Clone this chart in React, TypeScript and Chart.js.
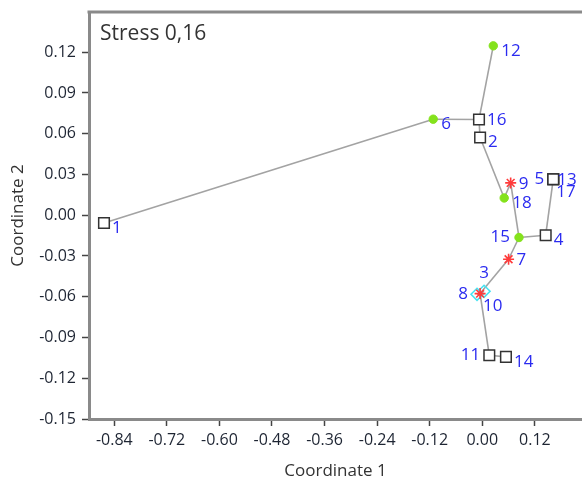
import React, { useEffect, useRef } from 'react';
import { Chart, registerables } from 'chart.js';
Chart.register(...registerables);

// ---- data ----
const pointNames = ['1','2','3','4','5','6','7','8','9','10','11','12','13','14','15','16','17','18'];
const coord1 = [-0.8635, -0.005, 0.004, 0.1447, 0.162, -0.112, 0.060, -0.012, 0.0648, -0.005, 0.016, 0.0251, 0.162, 0.054, 0.0838, -0.0075, 0.162, 0.050];
const coord2 = [-0.0057, 0.0572, -0.056, -0.0147, 0.0265, 0.0707, -0.0324, -0.0582, 0.0238, -0.0577, -0.1031, 0.1247, 0.0265, -0.1043, -0.0164, 0.0705, 0.0265, 0.0127];
const groupOf = ['box','box','diamond','box','box','dot','star','diamond','star','star','box','dot','teal','box','dot','box','box','dot'];
const edges = [[1,6],[6,16],[16,12],[16,2],[2,18],[18,9],[9,15],[15,4],[4,5],[15,7],[7,10],[10,3],[10,8],[10,11],[11,14]];
const xTicks = [-0.84, -0.72, -0.60, -0.48, -0.36, -0.24, -0.12, 0.00, 0.12];
const yTicks = [-0.15, -0.12, -0.09, -0.06, -0.03, 0.00, 0.03, 0.06, 0.09, 0.12];
const stressText = 'Stress 0,16';
const xTitle = 'Coordinate 1';
const yTitle = 'Coordinate 2';
// label anchor codes (style only)
const labelAnchor = ['rb','rb','t','rb','l','rb','r','l','r','b','l','rb','rc','rb','l','r','b','rb'];

const FONT = '"Open Sans", "Noto Sans", sans-serif';

const groupStyles: Record<string, any> = {
  box: { pointStyle: 'rect', pointRadius: 7.5, borderColor: '#333333', backgroundColor: '#ffffff', pointBorderWidth: 1.5 },
  teal: { pointStyle: 'rect', pointRadius: 7.5, borderColor: '#333333', backgroundColor: '#2f7566', pointBorderWidth: 1.5 },
  dot: { pointStyle: 'circle', pointRadius: 4.2, borderColor: '#84e21c', backgroundColor: '#84e21c', pointBorderWidth: 1 },
  star: { pointStyle: 'star', pointRadius: 5.5, borderColor: '#ff3b3b', backgroundColor: '#ff3b3b', pointBorderWidth: 1.6 },
  diamond: { pointStyle: 'rectRot', pointRadius: 6, borderColor: '#46e3f2', backgroundColor: 'rgba(0,0,0,0)', pointBorderWidth: 1.6 },
};

const anchorOffsets: Record<string, [number, number, CanvasTextAlign]> = {
  r: [8, 1, 'left'],
  rb: [8, 5, 'left'],
  rc: [4, 1, 'left'],
  l: [-9, 0, 'right'],
  t: [0, -18, 'center'],
  b: [3, 13, 'left'],
};

const labelPlugin = {
  id: 'pointLabels',
  afterDatasetsDraw(chart: any) {
    const { ctx, scales } = chart;
    ctx.save();
    ctx.font = `17px ${FONT}`;
    ctx.fillStyle = '#2b2bf0';
    ctx.textBaseline = 'middle';
    pointNames.forEach((name, i) => {
      const px = scales.x.getPixelForValue(coord1[i]);
      const py = scales.y.getPixelForValue(coord2[i]);
      const [dx, dy, align] = anchorOffsets[labelAnchor[i]];
      ctx.textAlign = align;
      ctx.fillText(name, px + dx, py + dy);
    });
    ctx.restore();
  },
};

const framePlugin = {
  id: 'frame',
  afterDraw(chart: any) {
    const { ctx, chartArea } = chart;
    ctx.save();
    ctx.strokeStyle = '#8a8a8a';
    ctx.lineWidth = 3;
    ctx.beginPath();
    ctx.moveTo(chartArea.left - 1.5, chartArea.top);
    ctx.lineTo(chartArea.right, chartArea.top);
    ctx.stroke();
    ctx.font = `21px ${FONT}`;
    ctx.fillStyle = '#333333';
    ctx.textAlign = 'left';
    ctx.textBaseline = 'middle';
    ctx.fillText(stressText, chartArea.left + 11, chartArea.top + 22);
    ctx.restore();
  },
};

export default function App() {
  const ref = useRef<HTMLCanvasElement>(null);
  useEffect(() => {
    if (!ref.current) return;
    const pointSets = Object.keys(groupStyles).map((g) => {
      const idx = groupOf.map((gg, i) => (gg === g ? i : -1)).filter((i) => i >= 0);
      const s = groupStyles[g];
      return {
        type: 'scatter' as const,
        label: g,
        data: idx.map((i) => ({ x: coord1[i], y: coord2[i] })),
        pointStyle: s.pointStyle,
        pointRadius: s.pointRadius,
        pointBorderWidth: s.pointBorderWidth,
        borderColor: s.borderColor,
        backgroundColor: s.backgroundColor,
        showLine: false,
        order: g === 'star' ? 0 : g === 'diamond' ? 2 : 1,
      };
    });
    const edgeSets = edges.map(([a, b]) => ({
      type: 'scatter' as const,
      label: `e${a}-${b}`,
      data: [
        { x: coord1[a - 1], y: coord2[a - 1] },
        { x: coord1[b - 1], y: coord2[b - 1] },
      ],
      showLine: true,
      borderColor: '#a3a3a3',
      borderWidth: 1.6,
      pointRadius: 0,
      order: 10,
    }));
    const chart = new Chart(ref.current, {
      type: 'scatter',
      data: { datasets: [...pointSets, ...edgeSets] as any },
      options: {
        responsive: false,
        animation: false,
        layout: { autoPadding: false, padding: { top: 12, right: 0, left: 0, bottom: 0 } },
        plugins: { legend: { display: false }, tooltip: { enabled: false } },
        scales: {
          x: {
            type: 'linear',
            min: -0.8977,
            max: 0.2276,
            afterBuildTicks: (s: any) => { s.ticks = xTicks.map((v) => ({ value: v })); },
            afterFit: (s: any) => { s.height = 62; s.paddingLeft = 0; s.paddingRight = 0; },
            ticks: {
              autoSkip: false,
              maxRotation: 0,
              padding: 5,
              color: '#1e2533',
              font: { family: FONT, size: 16 },
              callback: (v: any) => Number(v).toFixed(2),
            },
            grid: { drawOnChartArea: false, drawTicks: true, tickLength: 7, tickColor: '#444', tickWidth: 1.5 },
            border: { display: true, color: '#8a8a8a', width: 3 },
            title: { display: true, text: xTitle, color: '#333', font: { family: FONT, size: 17 }, padding: { bottom: 0, top: 0 } },
          },
          y: {
            type: 'linear',
            min: -0.15,
            max: 0.1496,
            afterBuildTicks: (s: any) => { s.ticks = yTicks.map((v) => ({ value: v })); },
            afterFit: (s: any) => { s.width = 89; s.paddingTop = 0; s.paddingBottom = 0; },
            ticks: {
              autoSkip: false,
              padding: 6,
              color: '#1e2533',
              font: { family: FONT, size: 16 },
              callback: (v: any) => Number(v).toFixed(2),
            },
            grid: { drawOnChartArea: false, drawTicks: true, tickLength: 7, tickColor: '#444', tickWidth: 1.5 },
            border: { display: true, color: '#8a8a8a', width: 3 },
            title: { display: true, text: yTitle, color: '#333', font: { family: FONT, size: 17 }, padding: { top: 8, bottom: 0 } },
          },
        },
      },
      plugins: [labelPlugin, framePlugin],
    });
    return () => chart.destroy();
  }, []);
  return (
    <div style={{ position: 'fixed', left: 0, top: 0, width: 582, height: 481, overflow: 'hidden', background: '#fff' }}>
      <canvas ref={ref} width={582} height={481} style={{ display: 'block', width: 582, height: 481 }} />
    </div>
  );
}
